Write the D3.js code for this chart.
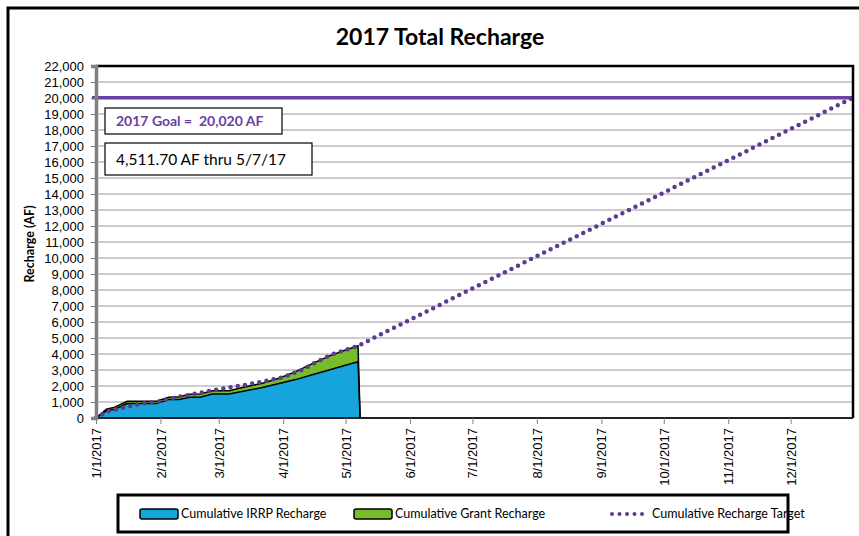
<!DOCTYPE html>
<html>
<head>
<meta charset="utf-8">
<script src="https://cdn.jsdelivr.net/npm/d3@7"></script>
<style>
  body { margin: 0; background: #fff; }
  svg { font-family: Lato, "Open Sans", sans-serif; }
</style>
</head>
<body>
<div id="chart"></div>
<script>
// cumulative recharge readings (AF)
const dates = ["2017-01-01", "2017-01-06", "2017-01-10", "2017-01-16", "2017-01-30", "2017-02-05",
  "2017-02-10", "2017-02-15", "2017-02-20", "2017-02-26", "2017-03-06", "2017-03-14", "2017-03-22",
  "2017-03-30", "2017-04-07", "2017-04-15", "2017-04-23", "2017-05-01", "2017-05-07", "2017-05-08",
  "2017-12-31"];
const irrp = [0, 450, 550, 900, 900, 1150, 1150, 1300, 1300, 1500, 1500, 1700, 1900, 2150, 2400,
  2700, 3000, 3300, 3520, 0, 0];
const grant = [0, 100, 130, 150, 150, 150, 180, 180, 200, 200, 210, 250, 270, 330, 500, 700,
  870, 950, 991.7, 0, 0];
// cumulative target
const targetDates = ["2017-01-01", "2017-01-06", "2017-01-12", "2017-01-16", "2017-01-21", "2017-01-26",
  "2017-02-01", "2017-02-07", "2017-02-15", "2017-03-01", "2017-03-16", "2017-04-01", "2017-04-10",
  "2017-04-17", "2017-04-25", "2017-05-07", "2017-12-31"];
const targetValues = [0, 380, 580, 700, 850, 950, 1050, 1250, 1450, 1800, 2120, 2550, 3000, 3500,
  4000, 4511.7, 20020];
const goal = 20020;
const yTicks = d3.range(0, 22001, 1000);
const xTickDates = ["2017-01-01", "2017-02-01", "2017-03-01", "2017-04-01", "2017-05-01", "2017-06-01",
  "2017-07-01", "2017-08-01", "2017-09-01", "2017-10-01", "2017-11-01", "2017-12-01"];
const legendLabels = ["Cumulative IRRP Recharge", "Cumulative Grant Recharge", "Cumulative Recharge Target"];

const W = 859, H = 536;
const pLeft = 96, pRight = 853, pTop = 66, pBottom = 418;
const parse = d3.timeParse("%Y-%m-%d");
const fmt = d3.timeFormat("%-m/%-d/%Y");

const blue = "#16a4dc", green = "#76bd2c", purple = "#5e3b8e";

const svg = d3.select("#chart").append("svg").attr("width", W).attr("height", H);

// outer border
svg.append("rect").attr("x", 8).attr("y", 8).attr("width", 860).attr("height", 540)
  .attr("fill", "none").attr("stroke", "#000").attr("stroke-width", 3);

svg.append("text").attr("x", 440).attr("y", 45).attr("text-anchor", "middle")
  .attr("font-size", 23).attr("font-weight", "bold").text("2017 Total Recharge");

const x = d3.scaleTime().domain([parse("2017-01-01"), parse("2017-12-31")]).range([pLeft, pRight]);
const y = d3.scaleLinear().domain([0, 22000]).range([pBottom, pTop]);

// gridlines
svg.append("g").selectAll("line").data(yTicks.slice(1)).join("line")
  .attr("x1", pLeft).attr("x2", pRight).attr("y1", d => y(d)).attr("y2", d => y(d))
  .attr("stroke", "#9a9a9a").attr("stroke-width", 1);

// stacked areas
const rows = dates.map((d, i) => ({ date: parse(d), irrp: irrp[i], grant: grant[i] }));
const stack = d3.stack().keys(["irrp", "grant"])(rows);
const area = d3.area().x(d => x(d.data.date)).y0(d => y(d[0])).y1(d => y(d[1]));
const topLine = d3.line().x(d => x(d.data.date)).y(d => y(d[1]));

svg.append("path").datum(stack[1]).attr("d", area).attr("fill", green);
svg.append("path").datum(stack[0]).attr("d", area).attr("fill", blue);
svg.append("path").datum(stack[0]).attr("d", topLine).attr("fill", "none")
  .attr("stroke", "#000").attr("stroke-width", 1.5);
svg.append("path").datum(stack[1]).attr("d", topLine).attr("fill", "none")
  .attr("stroke", "#000").attr("stroke-width", 1.5);

// goal line
svg.append("line").attr("x1", pLeft - 4).attr("x2", pRight - 1).attr("y1", y(goal)).attr("y2", y(goal))
  .attr("stroke", "#6a40a0").attr("stroke-width", 3.5);

// target dotted line
const target = targetDates.map((d, i) => ({ date: parse(d), v: targetValues[i] }));
svg.append("path").datum(target)
  .attr("d", d3.line().x(d => x(d.date)).y(d => y(d.v)))
  .attr("fill", "none").attr("stroke", purple).attr("stroke-width", 4.5)
  .attr("stroke-linecap", "round").attr("stroke-linejoin", "round").attr("stroke-dasharray", "0 7.3");

// frame: top/right black, bottom black, left gray
svg.append("path").attr("d", `M${pLeft},${pTop}H${pRight}V${pBottom}`)
  .attr("fill", "none").attr("stroke", "#000").attr("stroke-width", 2.5);
svg.append("line").attr("x1", pLeft).attr("x2", pRight).attr("y1", pBottom).attr("y2", pBottom)
  .attr("stroke", "#222").attr("stroke-width", 2);

// y axis
const yAxis = svg.append("g").attr("transform", `translate(${pLeft},0)`)
  .call(d3.axisLeft(y).tickValues(yTicks).tickFormat(d3.format(",")).tickSize(5).tickPadding(7));
yAxis.select(".domain").attr("stroke", "#808080").attr("stroke-width", 3.5);
yAxis.selectAll(".tick line").attr("stroke", "#808080");
yAxis.selectAll("text").attr("font-size", 13).attr("fill", "#000");

// x axis
const xAxis = svg.append("g").attr("transform", `translate(0,${pBottom})`)
  .call(d3.axisBottom(x).tickValues(xTickDates.map(parse)).tickFormat(fmt).tickSize(6));
xAxis.select(".domain").remove();
xAxis.selectAll(".tick line").attr("stroke", "#808080");
xAxis.selectAll("text").attr("font-size", 13).attr("fill", "#000")
  .attr("text-anchor", "end").attr("transform", "rotate(-90)")
  .attr("x", -10).attr("y", 0).attr("dy", "0.35em");

// y label
svg.append("text").attr("transform", "translate(34,244) rotate(-90)").attr("text-anchor", "middle")
  .attr("font-size", 12.5).attr("font-weight", "bold").text("Recharge (AF)");

// annotation boxes
svg.append("rect").attr("x", 105).attr("y", 108).attr("width", 177).attr("height", 26)
  .attr("fill", "#fff").attr("stroke", "#000").attr("stroke-width", 1.2);
svg.append("text").attr("x", 116).attr("y", 126).attr("font-size", 14).attr("font-weight", "bold")
  .style("white-space", "pre").attr("fill", "#6a40a0").text("2017 Goal =  20,020 AF");
svg.append("rect").attr("x", 105).attr("y", 143).attr("width", 207).attr("height", 32)
  .attr("fill", "#fff").attr("stroke", "#000").attr("stroke-width", 1.2);
svg.append("text").attr("x", 116).attr("y", 165).attr("font-size", 15.5).text("4,511.70 AF thru 5/7/17");

// legend
svg.append("rect").attr("x", 118).attr("y", 495).attr("width", 670).attr("height", 37)
  .attr("fill", "#fff").attr("stroke", "#000").attr("stroke-width", 3);
const legend = svg.append("g").attr("font-size", 12.5);
[[140, blue], [354, green]].forEach(([lx, c]) => {
  legend.append("rect").attr("x", lx).attr("y", 509).attr("width", 38).attr("height", 10)
    .attr("rx", 2).attr("fill", c).attr("stroke", "#000").attr("stroke-width", 1.5);
});
legend.append("text").attr("x", 181).attr("y", 518).text(legendLabels[0]);
legend.append("text").attr("x", 395).attr("y", 518).text(legendLabels[1]);
legend.append("line").attr("x1", 612).attr("x2", 645).attr("y1", 514).attr("y2", 514)
  .attr("stroke", purple).attr("stroke-width", 4).attr("stroke-linecap", "round")
  .attr("stroke-dasharray", "0 7.5");
legend.append("text").attr("x", 652).attr("y", 518).text(legendLabels[2]);
</script>
</body>
</html>
